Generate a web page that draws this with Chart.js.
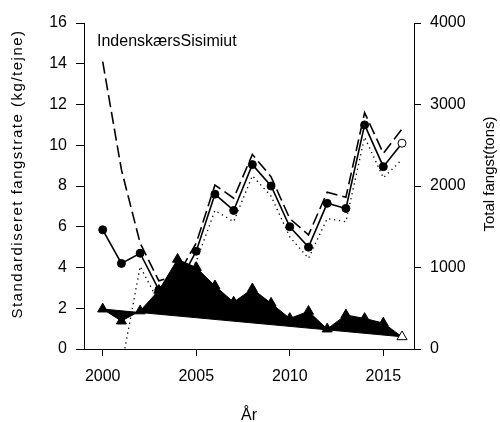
<!DOCTYPE html>
<html>
<head>
<meta charset="utf-8">
<script src="https://cdn.jsdelivr.net/npm/chart.js@4.4.1/dist/chart.umd.min.js"></script>
<style>
  html,body{margin:0;padding:0;background:#fff;}
  #wrap{width:500px;height:422px;}
</style>
</head>
<body>
<div id="wrap"><canvas id="c" width="500" height="422"></canvas></div>
<script>
// values
const years  = [2000,2001,2002,2003,2004,2005,2006,2007,2008,2009,2010,2011,2012,2013,2014,2015,2016];
const cpue   = [5.85,4.2,4.7,2.9,3.1,4.8,7.6,6.8,9.05,8.0,6.0,5.0,7.15,6.9,11.0,8.95,10.1];   // kg/tejne, solid
const cpueHi = [14.1,8.8,5.2,3.35,3.6,5.2,8.05,7.4,9.55,8.45,6.4,5.6,7.7,7.45,11.6,9.6,10.8]; // dashed
const cpueLo = [-2.4,-0.9,4.05,2.3,2.6,4.3,6.8,6.25,8.5,7.5,5.5,4.45,6.4,6.25,10.4,8.4,9.3]; // dotted
const catchT = [490,343,467,720,1100,1000,775,575,738,562,375,462,245,418,375,318,150];   // tons
const xTicks  = [2000,2005,2010,2015];
const yTicks  = [0,2,4,6,8,10,12,14,16];
const y1Ticks = [0,1000,2000,3000,4000];

const FONT = '"Liberation Sans", Arial, Helvetica, sans-serif';
Chart.defaults.font.family = FONT;
Chart.defaults.font.size = 16;
Chart.defaults.color = '#000';

const pts = arr => years.map((x,i) => ({x, y: arr[i]}));
const last = years.length - 1;
const openLast = c => c.dataIndex === last ? '#fff' : '#000';

// R-style texts: panel label + both axis titles reading bottom-to-top
const texts = {
  id:'texts',
  afterDraw(chart){
    const {ctx, chartArea:a} = chart;
    ctx.save();
    ctx.fillStyle = '#000';
    ctx.font = '16px ' + FONT;
    ctx.textAlign = 'left'; ctx.textBaseline = 'alphabetic';
    ctx.fillText('IndenskærsSisimiut', a.left + 13, 45.5);
    const mid = (a.top + a.bottom) / 2 - 12;
    vtext(ctx, 'Standardiseret fangstrate (kg/tejne)', 18, mid, '15px ' + FONT, '1.5px');
    vtext(ctx, 'Total fangst(tons)', 490, mid, '15px ' + FONT, '0px');
    ctx.restore();
  }
};
function vtext(ctx, t, x, y, font, ls){
  ctx.save();
  ctx.translate(x, y); ctx.rotate(-Math.PI/2);
  ctx.font = font; ctx.letterSpacing = ls;
  ctx.textAlign = 'center'; ctx.textBaseline = 'middle';
  ctx.fillText(t, 0, 0);
  ctx.restore();
}

const axisGrid = len => ({drawOnChartArea:false, drawTicks:true, tickLength:len, tickColor:'#000', tickWidth:1});
const axisBorder = {display:true, color:'#000', width:1};

new Chart(document.getElementById('c'), {
  type:'line',
  data:{datasets:[
    {data:pts(cpue), yAxisID:'y', borderColor:'#000', borderWidth:1.6,
     pointRadius:4, pointBorderWidth:1, pointBorderColor:'#000', pointBackgroundColor:openLast},
    {data:pts(cpueHi), yAxisID:'y', borderColor:'#000', borderWidth:1.6, borderDash:[12,5], pointRadius:0},
    {data:pts(cpueLo), yAxisID:'y', borderColor:'#000', borderWidth:1.3, borderDash:[1.3,3.7], pointRadius:0},
    // total catch drawn as an R polygon: series closed back to its first point
    {data:pts(catchT), yAxisID:'y1', borderColor:'#000', borderWidth:1, backgroundColor:'#000', fill:4,
     pointStyle:'triangle', pointRadius:5.8, pointBorderWidth:1, pointBorderColor:'#000', pointBackgroundColor:openLast},
    {data:[0,last].map(i => ({x:years[i], y:catchT[i]})), yAxisID:'y1', borderColor:'#000', borderWidth:1, pointRadius:0}
  ]},
  options:{
    responsive:false, animation:false,
    layout:{padding:{top:23, left:0, right:0, bottom:0}},
    plugins:{legend:{display:false}, tooltip:{enabled:false}},
    elements:{line:{tension:0}},
    scales:{
      x:{type:'linear', min:1999, max:2016.64,
         afterBuildTicks:s => { s.ticks = xTicks.map(v => ({value:v})); },
         afterFit:s => { s.height = 73; },
         grid:axisGrid(7), border:axisBorder,
         ticks:{padding:11, maxRotation:0, autoSkip:false, callback:v => String(v)},
         title:{display:true, text:'År', font:{size:16}, padding:{top:0, bottom:-3}}},
      y:{position:'left', min:0, max:16,
         afterBuildTicks:s => { s.ticks = yTicks.map(v => ({value:v})); },
         afterFit:s => { s.width = 84; },
         grid:axisGrid(8), border:axisBorder,
         ticks:{padding:9, callback:v => String(v)}},
      y1:{position:'right', min:0, max:4000,
         afterBuildTicks:s => { s.ticks = y1Ticks.map(v => ({value:v})); },
         afterFit:s => { s.width = 86; },
         grid:axisGrid(7), border:axisBorder,
         ticks:{padding:9, callback:v => String(v)}}
    }
  },
  plugins:[texts]
});
</script>
</body>
</html>
